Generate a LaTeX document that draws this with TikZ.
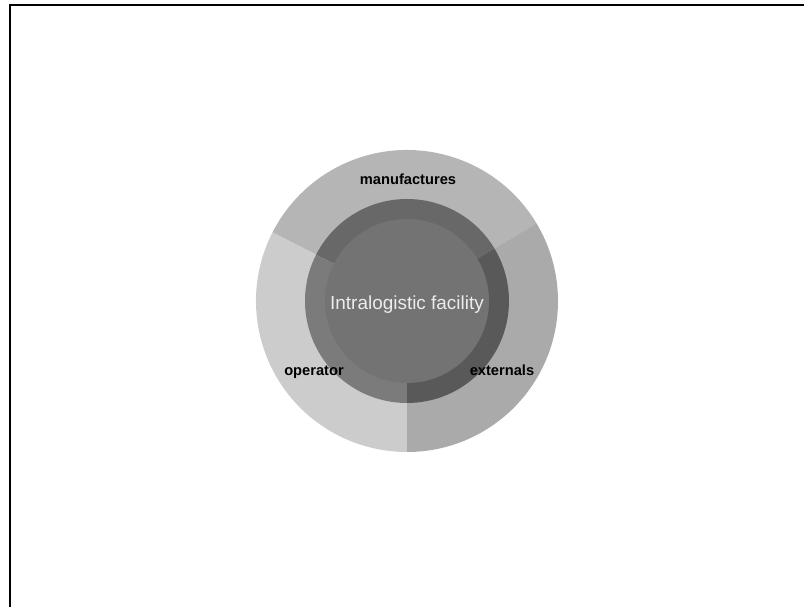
\documentclass[tikz,border=0pt]{standalone}
\usepackage{fontspec}
\setmainfont{Liberation Sans}
\usetikzlibrary{positioning}
\definecolor{outermanu}{RGB}{181,181,181}
\definecolor{outeroper}{RGB}{204,204,204}
\definecolor{outerext}{RGB}{170,170,170}
\definecolor{midmanu}{RGB}{104,104,104}
\definecolor{midoper}{RGB}{123,123,123}
\definecolor{midext}{RGB}{89,89,89}
\definecolor{core}{RGB}{115,115,115}
\definecolor{coretext}{RGB}{236,236,236}
\tikzset{
    ringlabel/.style={font=\fontsize{11}{13}\selectfont\bfseries, text=black, inner sep=1pt}
}
\begin{document}
\begin{tikzpicture}[x=0.75pt,y=0.75pt]
    \useasboundingbox (0,0) rectangle (804,607);
    \draw[line width=1.5pt] (10,0) -- (10,601.5) -- (804,601.5);
    \coordinate (c) at (407,306);
    % outer ring
    \foreach \a/\b/\col in {31/153/outermanu,153/270/outeroper,270/391/outerext} {
        \fill[\col] (c) -- ++(\a:151) arc (\a:\b:151) -- cycle;
    }
    % middle ring
    \foreach \a/\b/\col in {31/153/midmanu,153/270/midoper,270/391/midext} {
        \fill[\col] (c) -- ++(\a:102) arc (\a:\b:102) -- cycle;
    }
    \fill[core] (c) circle (82);
    \node[font=\fontsize{14.2}{16}\selectfont, text=coretext] (facility) at (407,302) {Intralogistic facility};
    \node[ringlabel] (manu) at (408,428) {manufactures};
    \node[ringlabel] (oper) at (314,235) {operator};
    \node[ringlabel] (ext) at (502,237) {externals};
\end{tikzpicture}
\end{document}
